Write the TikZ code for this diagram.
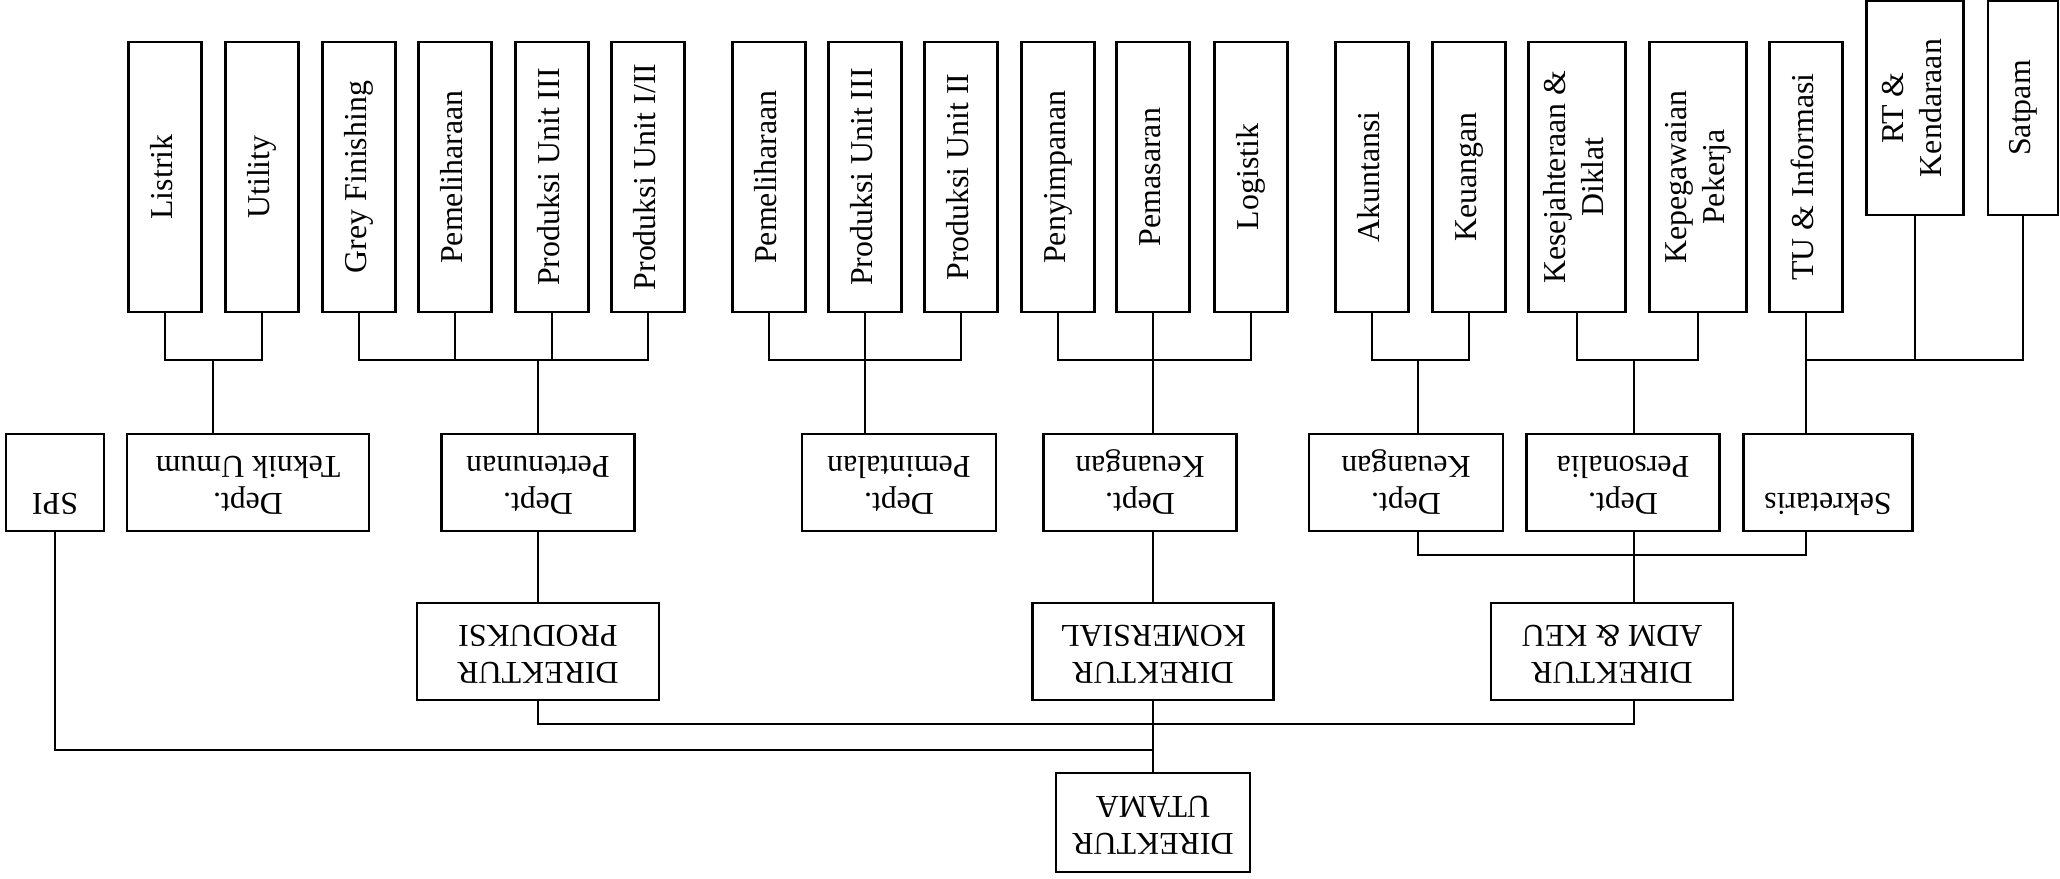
\documentclass[tikz,border=0pt]{standalone}
\usepackage{fontspec}
\setmainfont{Liberation Serif}
\newcommand\vtext[1]{\rotatebox{90}{\begin{tabular}{@{}c@{}}#1\end{tabular}}}
\newcommand\utext[1]{\rotatebox{180}{\begin{tabular}{@{}c@{}}#1\end{tabular}}}
\begin{document}
\begin{tikzpicture}[x=0.015cm,y=-0.015cm,
  box/.style={draw, line width=0.9pt, inner sep=0pt, font=\fontsize{13.6}{16}\selectfont},
  topbox/.style={box, minimum width=73*0.015cm, minimum height=270*0.015cm},
  midbox/.style={box, minimum height=97*0.015cm},
  con/.style={line width=0.9pt}]
\useasboundingbox (0,0) rectangle (2060,878);
% ---- top row ----
\node[topbox] (listrik) at (165,177) {\vtext{Listrik}};
\node[topbox] (utility) at (262,177) {\vtext{Utility}};
\node[topbox] (grey)    at (359,177) {\vtext{Grey Finishing}};
\node[topbox] (pemA)    at (455,177) {\vtext{Pemeliharaan}};
\node[topbox] (prodA)   at (552,177) {\vtext{Produksi Unit III}};
\node[topbox] (prodB)   at (648,177) {\vtext{Produksi Unit I/II}};
\node[topbox] (pemB)    at (769,177) {\vtext{Pemeliharaan}};
\node[topbox] (prodC)   at (865,177) {\vtext{Produksi Unit III}};
\node[topbox] (prodD)   at (961,177) {\vtext{Produksi Unit II}};
\node[topbox] (penyim)  at (1058,177) {\vtext{Penyimpanan}};
\node[topbox] (pemas)   at (1153,177) {\vtext{Pemasaran}};
\node[topbox] (logis)   at (1251,177) {\vtext{Logistik}};
\node[topbox] (akun)    at (1372,177) {\vtext{Akuntansi}};
\node[topbox] (keuA)    at (1469,177) {\vtext{Keuangan}};
\node[topbox, minimum width=97*0.015cm] (kes) at (1577,177) {\vtext{Kesejahteraan \&\\Diklat}};
\node[topbox, minimum width=97*0.015cm] (kep) at (1698,177) {\vtext{Kepegawaian\\Pekerja}};
\node[topbox] (tu)      at (1806,177) {\vtext{TU \& Informasi}};
\node[box, minimum width=97*0.015cm, minimum height=214*0.015cm] (rt) at (1915,108) {\vtext{RT \&\\Kendaraan}};
\node[box, minimum width=70*0.015cm, minimum height=214*0.015cm] (satpam) at (2023,108) {\vtext{Satpam}};
% ---- second row ----
\node[midbox, minimum width=98*0.015cm]  (spi)        at (55,482.5)   {\utext{SPI\\\mbox{}}};
\node[midbox, minimum width=242*0.015cm] (teknik)     at (248,482.5)  {\utext{Dept.\\Teknik Umum}};
\node[midbox, minimum width=193*0.015cm] (pertenunan) at (538,482.5)  {\utext{Dept.\\Pertenunan}};
\node[midbox, minimum width=194*0.015cm] (pemintalan) at (899,482.5)  {\utext{Dept.\\Pemintalan}};
\node[midbox, minimum width=193*0.015cm] (keuB)       at (1140,482.5) {\utext{Dept.\\Keuangan}};
\node[midbox, minimum width=194*0.015cm] (keuC)       at (1406,482.5) {\utext{Dept.\\Keuangan}};
\node[midbox, minimum width=193*0.015cm] (personalia) at (1623,482.5) {\utext{Dept.\\Personalia}};
\node[midbox, minimum width=169*0.015cm] (sek)        at (1828,482.5) {\utext{Sekretaris\\\mbox{}}};
% ---- directors ----
\node[midbox, minimum width=242*0.015cm] (dirprod) at (538,651.5)  {\utext{DIREKTUR\\PRODUKSI}};
\node[midbox, minimum width=241*0.015cm] (dirkom)  at (1153,651.5) {\utext{DIREKTUR\\KOMERSIAL}};
\node[midbox, minimum width=242*0.015cm] (diradm)  at (1612,651.5) {\utext{DIREKTUR\\ADM \& KEU}};
\node[box, minimum width=194*0.015cm, minimum height=99*0.015cm] (utama) at (1153,822.5) {\utext{DIREKTUR\\UTAMA}};
% ---- junction coordinates ----
\coordinate (busT) at (0,360);
\coordinate (dTU) at (213,360);
\coordinate (dK2) at (1418,360);
\coordinate (dPer) at (1634,360);
\coordinate (busS) at (0,555);
\coordinate (busA) at (0,724);
\coordinate (busB) at (0,750);
% ---- connectors top ----
\draw[con] (listrik.south) -- (listrik.south |- busT) -- (utility.south |- busT) -- (utility.south);
\draw[con] (dTU) -- (dTU |- teknik.north);
\draw[con] (grey.south) -- (grey.south |- busT) -- (prodB.south |- busT) -- (prodB.south);
\draw[con] (pemA.south) -- (pemA.south |- busT);
\draw[con] (prodA.south) -- (prodA.south |- busT);
\draw[con] (pertenunan.north |- busT) -- (pertenunan.north);
\draw[con] (pemB.south) -- (pemB.south |- busT) -- (prodD.south |- busT) -- (prodD.south);
\draw[con] (prodC.south) -- (prodC.south |- pemintalan.north);
\draw[con] (penyim.south) -- (penyim.south |- busT) -- (logis.south |- busT) -- (logis.south);
\draw[con] (pemas.south) -- (pemas.south |- keuB.north);
\draw[con] (akun.south) -- (akun.south |- busT) -- (keuA.south |- busT) -- (keuA.south);
\draw[con] (dK2) -- (dK2 |- keuC.north);
\draw[con] (kes.south) -- (kes.south |- busT) -- (kep.south |- busT) -- (kep.south);
\draw[con] (dPer) -- (dPer |- personalia.north);
\draw[con] (tu.south) -- (tu.south |- busT) -- (satpam.south |- busT) -- (satpam.south);
\draw[con] (rt.south) -- (rt.south |- busT);
\draw[con] (tu.south) -- (tu.south |- sek.north);
% ---- connectors lower ----
\draw[con] (dK2 |- keuC.south) -- (dK2 |- busS) -- (tu.south |- busS) -- (tu.south |- sek.south);
\draw[con] (dPer |- personalia.south) -- (dPer |- diradm.north);
\draw[con] (pertenunan.south) -- (dirprod.north);
\draw[con] (pemas.south |- keuB.south) -- (dirkom.north);
\draw[con] (dirprod.south) -- (dirprod.south |- busA) -- (dPer |- busA) -- (dPer |- diradm.south);
\draw[con] (dirkom.south) -- (utama.north);
\draw[con] (spi.south) -- (spi.south |- busB) -- (utama.north |- busB);
\end{tikzpicture}
\end{document}
